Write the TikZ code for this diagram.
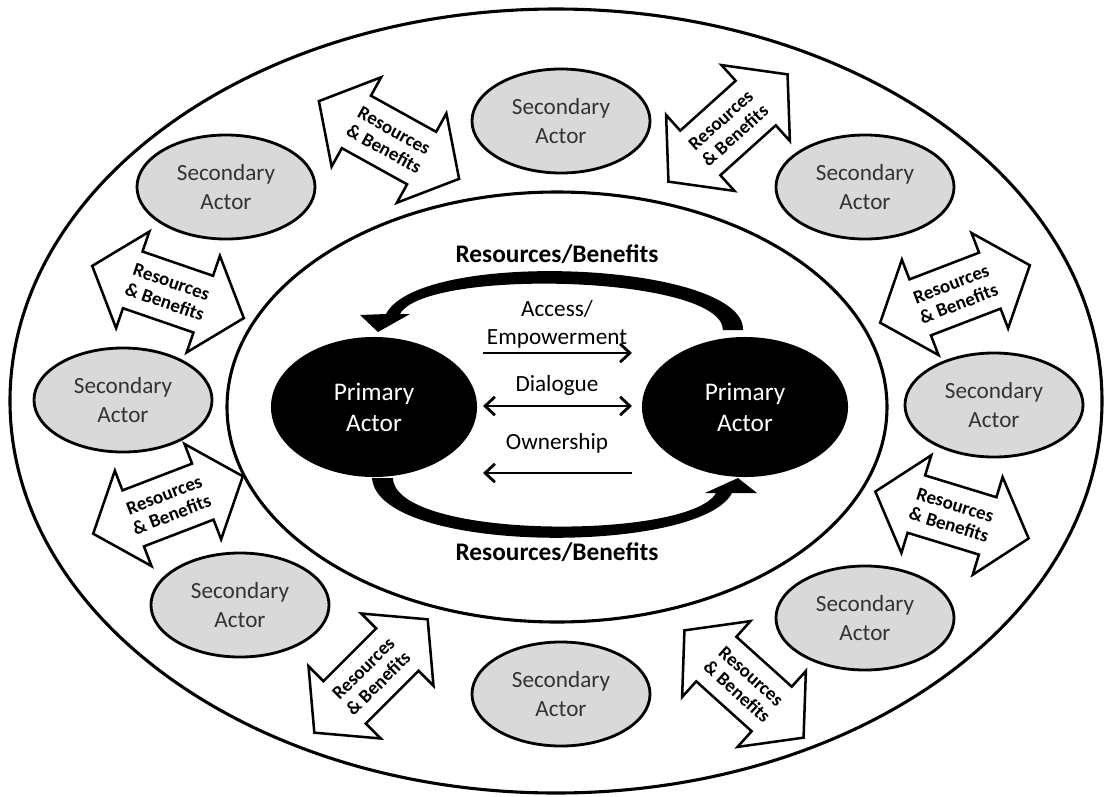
\documentclass[tikz,border=0pt]{standalone}
\usepackage{fontspec}
\setmainfont{Carlito}
\usetikzlibrary{shapes.geometric, shapes.arrows, arrows.meta}

\begin{document}
\begin{tikzpicture}[
        x=0.025cm, y=-0.025cm,
        ring/.style={draw=black, line width=2.2pt},
        secondary/.style={
            ellipse,
            draw=black,
            line width=2pt,
            fill=gray!30,
            text=black!80,
            align=center,
            minimum width=4.45cm,
            minimum height=2.6cm,
            font=\fontsize{16.5}{20}\selectfont
        },
        primary/.style={
            ellipse,
            fill=black,
            text=white,
            align=center,
            minimum width=5.15cm,
            minimum height=3.5cm,
            font=\fontsize{18}{22}\selectfont
        },
        exchange/.style={
            double arrow,
            draw=black,
            line width=1.8pt,
            fill=white,
            align=center,
            double arrow head extend=15pt,
            double arrow tip angle=100,
            minimum height=114pt,
            inner xsep=2pt,
            inner ysep=8.5pt,
            font=\bfseries\fontsize{13.5}{15}\selectfont
        },
        flowlabel/.style={align=center, font=\fontsize{16.5}{20}\selectfont},
        benefit/.style={font=\bfseries\fontsize{18}{22}\selectfont},
        flow/.style={line width=2pt, -{Straight Barb[length=7pt, width=13pt]}},
        flowboth/.style={line width=2pt, {Straight Barb[length=7pt, width=13pt]}-{Straight Barb[length=7pt, width=13pt]}}
    ]

    \useasboundingbox (0,0) rectangle (1105,796);

    \draw[ring] (556,401) ellipse [x radius=546, y radius=392];
    \draw[ring] (557,407) ellipse [x radius=330, y radius=215];

    \node[secondary] (secTop) at (561,121) {Secondary\\Actor};
    \node[secondary] (secTopL) at (226,187) {Secondary\\Actor};
    \node[secondary] (secTopR) at (865,187) {Secondary\\Actor};
    \node[secondary] (secL) at (123,400) {Secondary\\Actor};
    \node[secondary] (secR) at (994,405) {Secondary\\Actor};
    \node[secondary] (secBotL) at (240,605) {Secondary\\Actor};
    \node[secondary] (secBotR) at (865,618) {Secondary\\Actor};
    \node[secondary] (secBot) at (561,694) {Secondary\\Actor};

    \node[exchange, rotate=-29] (xTopL) at (389,140) {Resources\\\& Benefits};
    \node[exchange, rotate=42] (xTopR) at (728,128) {Resources\\\& Benefits};
    \node[exchange, rotate=-19] (xMidL) at (168,292) {Resources\\\& Benefits};
    \node[exchange, rotate=21] (xMidR) at (955,294) {Resources\\\& Benefits};
    \node[exchange, rotate=21] (xLowL) at (168,505) {Resources\\\& Benefits};
    \node[exchange, rotate=-17] (xLowR) at (952,515) {Resources\\\& Benefits};
    \node[exchange, rotate=45] (xBotL) at (371,676) {Resources\\\& Benefits};
    \node[exchange, rotate=-42] (xBotR) at (744,684) {Resources\\\& Benefits};

    \node[primary] (primL) at (374,407) {Primary\\Actor};
    \node[primary] (primR) at (745,407) {Primary\\Actor};

    \node[benefit] (benTop) at (557,254) {Resources/Benefits};
    \node[benefit] (benBot) at (557,552) {Resources/Benefits};

    % curved resource flows
    \fill (743,330) .. controls (745,262) and (420,248) .. (386,314) -- (360,315) -- (378,332)
        -- (410,314) -- (400,314) .. controls (425,268) and (722,275) .. (723,330) -- cycle;
    \fill (372,478) .. controls (378,555) and (700,555) .. (732,493) -- (757,493) -- (738,478)
        -- (705,493) -- (716,493) .. controls (690,540) and (395,540) .. (393,478) -- cycle;

    \node[flowlabel] (access) at (557,324) {Access/\\Empowerment};
    \node[flowlabel] (dialogue) at (557,385) {Dialogue};
    \node[flowlabel] (owner) at (557,443) {Ownership};

    \coordinate (accL) at (483,353);
    \coordinate (accR) at (632,353);
    \coordinate (diaL) at (483,406);
    \coordinate (diaR) at (632,406);
    \coordinate (ownL) at (483,473);
    \coordinate (ownR) at (632,473);

    \draw[flow] (accL) -- (accR);
    \draw[flowboth] (diaL) -- (diaR);
    \draw[flow] (ownR) -- (ownL);

\end{tikzpicture}
\end{document}
